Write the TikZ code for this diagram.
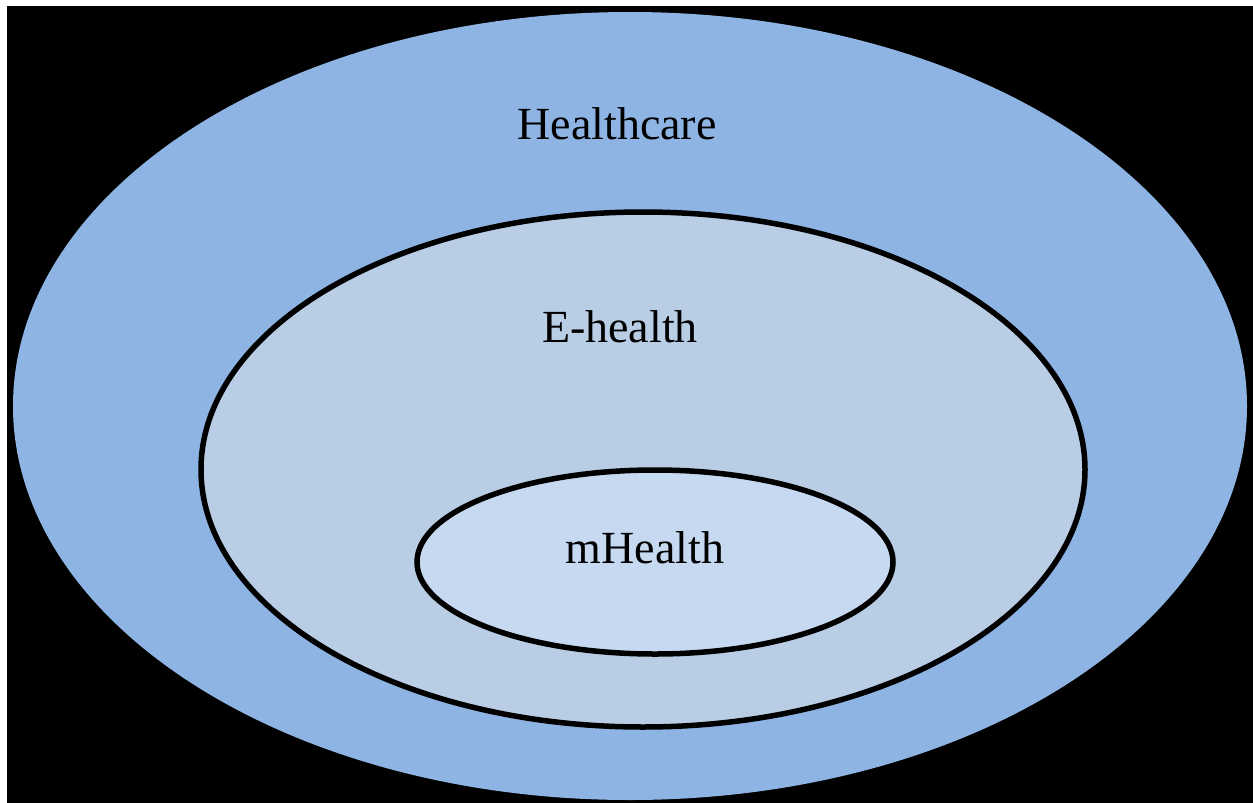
\documentclass[tikz,border=0pt]{standalone}
\usepackage{fontspec}
\setmainfont{Liberation Serif}
\definecolor{outerblue}{HTML}{8EB4E3}
\definecolor{midblue}{HTML}{B9CDE5}
\definecolor{innerblue}{HTML}{C6D9F1}
\begin{document}
\begin{tikzpicture}[x=1pt,y=-1pt,
  ring/.style={draw=black,line width=5.5pt},
  lbl/.style={anchor=base,inner sep=0pt,font=\fontsize{46}{50}\selectfont}]
\useasboundingbox[fill=white] (0,0) rectangle (1253,803);
\fill[black] (7,6) rectangle (1253,803);
\fill[outerblue] (630,406) ellipse [x radius=617, y radius=394];
\draw[ring,fill=midblue] (643,469.5) ellipse [x radius=442, y radius=257.5];
\draw[ring,fill=innerblue] (655,562) ellipse [x radius=238, y radius=92];
\node[lbl] (hc) at (617,139) {Healthcare};
\node[lbl] (eh) at (620,342) {E-health};
\node[lbl] (mh) at (645,563) {mHealth};
\end{tikzpicture}
\end{document}
